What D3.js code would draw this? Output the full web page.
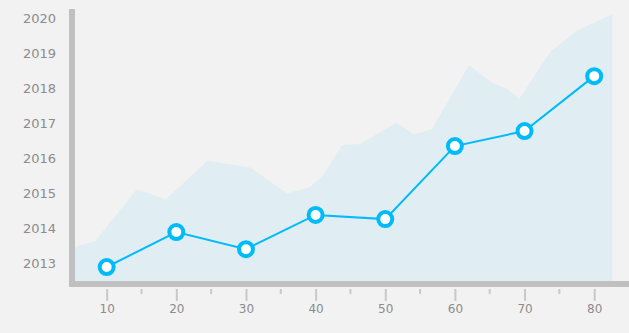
<!DOCTYPE html>
<html>
<head>
<meta charset="utf-8">
<script src="https://cdn.jsdelivr.net/npm/d3@7"></script>
<style>
  body { margin: 0; background: #f2f2f2; }
  svg { display: block; }
  .tick text { font-family: "DejaVu Sans", sans-serif; fill: #8c8c8c; }
</style>
</head>
<body>
<svg id="chart" width="629" height="333"></svg>
<script>
// line series
var lineX = [10, 20, 30, 40, 50, 60, 70, 80];
var lineY = [2012.89, 2013.89, 2013.4, 2014.38, 2014.26, 2016.35, 2016.78, 2018.35];

// background area (upper edge)
var areaX = [5.45, 8.3, 14.3, 18.5, 24.5, 30.6, 33.5, 35.9, 39.2, 41.1, 43.8, 46.4, 51.6, 54.1, 56.7, 62.0, 65.1, 67.7, 69.2, 73.7, 77.5, 82.6];
var areaY = [2013.47, 2013.62, 2015.11, 2014.83, 2015.93, 2015.74, 2015.33, 2015.0, 2015.17, 2015.52, 2016.38, 2016.41, 2017.02, 2016.69, 2016.83, 2018.67, 2018.19, 2017.97, 2017.69, 2019.05, 2019.65, 2020.12];

var xMajor = [10, 20, 30, 40, 50, 60, 70, 80];
var xMinor = [15, 25, 35, 45, 55, 65, 75];
var yTicks = [2013, 2014, 2015, 2016, 2017, 2018, 2019, 2020];

var svg = d3.select("#chart");
var plotLeft = 75, plotBottom = 281, plotTop = 9, plotRight = 629;

var x = d3.scaleLinear().domain([5.45, 85]).range([plotLeft, plotRight]);
var y = d3.scaleLinear().domain([2012.49, 2020.27]).range([plotBottom, plotTop]);

// area
var areaData = areaX.map(function(v, i) { return [v, areaY[i]]; });
svg.append("path")
  .datum(areaData)
  .attr("fill", "#e0edf3")
  .attr("d", d3.area()
    .x(function(d) { return x(d[0]); })
    .y0(plotBottom)
    .y1(function(d) { return y(d[1]); }));

// bottom axis: thick bar + ticks below
var xAxis = svg.append("g")
  .attr("transform", "translate(0," + (plotBottom + 3) + ")")
  .call(d3.axisBottom(x).tickValues(xMajor).tickSizeOuter(0).tickSize(0));
xAxis.select(".domain").attr("stroke", "#c0c0c0").attr("stroke-width", 6).attr("d", "M" + (plotLeft - 6) + ",0H" + plotRight);
xAxis.selectAll(".tick line").attr("stroke", "#c8c8c8").attr("stroke-width", 2).attr("y1", 5).attr("y2", 17);
xAxis.selectAll(".tick text").attr("y", 29).attr("dy", null).style("font-size", "12px");

svg.append("g")
  .selectAll("line")
  .data(xMinor)
  .join("line")
  .attr("x1", function(d) { return x(d); })
  .attr("x2", function(d) { return x(d); })
  .attr("y1", plotBottom + 8)
  .attr("y2", plotBottom + 13)
  .attr("stroke", "#c8c8c8")
  .attr("stroke-width", 2);

// left axis
var yAxis = svg.append("g")
  .attr("transform", "translate(" + (plotLeft - 3) + ",0)")
  .call(d3.axisLeft(y).tickValues(yTicks).tickFormat(d3.format("d")).tickSize(0).tickPadding(16));
yAxis.select(".domain").attr("stroke", "#c0c0c0").attr("stroke-width", 6).attr("d", "M0," + plotTop + "V" + (plotBottom + 6));
yAxis.selectAll(".tick text").style("font-size", "13px");

// line
var lineData = lineX.map(function(v, i) { return [v, lineY[i]]; });
svg.append("path")
  .datum(lineData)
  .attr("fill", "none")
  .attr("stroke", "#00bbf9")
  .attr("stroke-width", 2)
  .attr("d", d3.line()
    .x(function(d) { return x(d[0]); })
    .y(function(d) { return y(d[1]); }));

svg.append("g")
  .selectAll("circle")
  .data(lineData)
  .join("circle")
  .attr("cx", function(d) { return x(d[0]); })
  .attr("cy", function(d) { return y(d[1]); })
  .attr("r", 7)
  .attr("fill", "#fff")
  .attr("stroke", "#00bbf9")
  .attr("stroke-width", 4);
</script>
</body>
</html>
